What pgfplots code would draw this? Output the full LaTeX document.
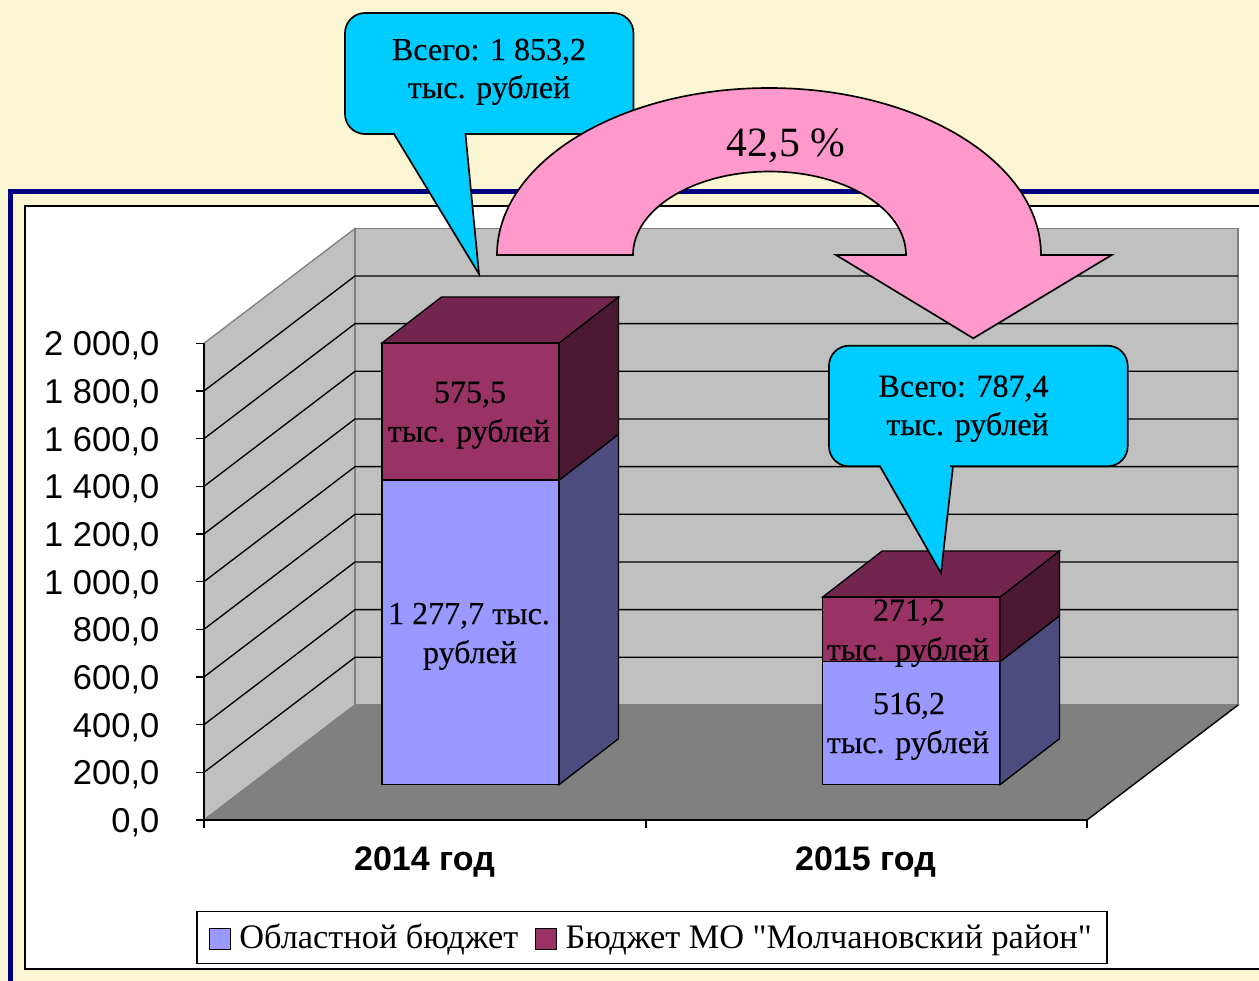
\documentclass[border=0pt]{standalone}
\usepackage{fontspec}
\setmainfont{Liberation Serif}
\newfontfamily\arial{Liberation Sans}
\newfontfamily\serifb[FakeBold=0.3]{Liberation Serif}
\newfontfamily\legf[Ligatures=TeXOff]{Liberation Serif}
\usepackage{pgfplots}
\pgfplotsset{compat=1.18}
\definecolor{pagebg}{HTML}{FAF5D3}
\definecolor{navy}{HTML}{000080}
\definecolor{wall}{HTML}{C0C0C0}
\definecolor{flr}{HTML}{808080}
\definecolor{blueF}{HTML}{9999FF}
\definecolor{blueS}{HTML}{4C4C7F}
\definecolor{marF}{HTML}{993366}
\definecolor{marT}{HTML}{73264D}
\definecolor{marS}{HTML}{4C1933}
\definecolor{cyanb}{HTML}{00CCFF}
\definecolor{pinka}{HTML}{FF99CC}
\newcommand{\tfont}{\serifb\fontsize{19.2}{23}\selectfont}
\begin{document}
\begin{tikzpicture}
\begin{scope}[x=0.6pt,y=-0.6pt]
\useasboundingbox (0,0) rectangle (1259,981);
\fill[pagebg] (0,0) rectangle (1259,981);
\fill[navy] (8,189) rectangle (1270,990);
\fill[pagebg] (13,194) rectangle (1270,990);
\draw[fill=white,line width=1.1pt] (25,205.7) rectangle (1280,968.7);
\end{scope}
\begin{axis}[
  at={(122.4pt,-492pt)},anchor=south west,
  scale only axis,width=529.8pt,height=286.02pt,
  xmin=204,xmax=1087,ymin=0,ymax=2000,
  clip=false,no marks,axis on top,
  axis x line*=bottom,axis y line*=left,
  axis line style={line width=1pt,-},
  tick align=outside,
  major tick length=4.8pt,minor tick length=4.8pt,
  tick style={black,line width=0.8pt},
  ytick={0,200,...,2000},
  yticklabel style={font=\arial\fontsize{20.7}{24}\selectfont,inner sep=0pt,xshift=-21.8pt,yshift=-1.6pt,
    /pgf/number format/.cd,fixed,fixed zerofill,precision=1,use comma,1000 sep={\ },assume math mode=true},
  xtick={424.5,865.5},
  xticklabels={2014 год,2015 год},
  xticklabel style={font=\arial\bfseries\fontsize{20.4}{24}\selectfont,inner sep=0pt,yshift=-11pt},
  minor xtick={204,646,1087},
  every major x tick/.append style={draw=none},
  legend columns=2,
  legend style={at={(axis cs:652,-493)},anchor=center,draw=black,line width=0.8pt,fill=white,
    font=\legf\fontsize{20.6}{24}\selectfont,inner xsep=7pt,inner ysep=5.4pt,
    /tikz/every even column/.append style={column sep=8pt},
    /tikz/every odd column/.append style={column sep=3pt}},
]
% walls and floor
\addplot[fill=wall,draw=flr,line width=0.8pt,forget plot] coordinates {(204,0)(204,2000)(355,2481.6)(355,482.5)} --cycle;
\addplot[fill=wall,draw=flr,line width=0.8pt,forget plot] coordinates {(355,482.5)(355,2481.6)(1238,2481.6)(1238,482.5)} --cycle;
\addplot[fill=flr,draw=flr,line width=0.8pt,forget plot] coordinates {(204,0)(355,482.5)(1238,482.5)(1087,0)} --cycle;
\addplot[black,line width=0.8pt,forget plot] coordinates {(1087,0)(1238,482.5)};
% grid
\addplot[black,line width=0.8pt,forget plot] coordinates {(204,200)(355,682.5)(1238,682.5)};
\addplot[black,line width=0.8pt,forget plot] coordinates {(204,400)(355,882.5)(1238,882.5)};
\addplot[black,line width=0.8pt,forget plot] coordinates {(204,600)(355,1082.5)(1238,1082.5)};
\addplot[black,line width=0.8pt,forget plot] coordinates {(204,800)(355,1282.5)(1238,1282.5)};
\addplot[black,line width=0.8pt,forget plot] coordinates {(204,1000)(355,1482.5)(1238,1482.5)};
\addplot[black,line width=0.8pt,forget plot] coordinates {(204,1200)(355,1682.5)(1238,1682.5)};
\addplot[black,line width=0.8pt,forget plot] coordinates {(204,1400)(355,1882.5)(1238,1882.5)};
\addplot[black,line width=0.8pt,forget plot] coordinates {(204,1600)(355,2082.5)(1238,2082.5)};
\addplot[black,line width=0.8pt,forget plot] coordinates {(204,1800)(355,2282.5)(1238,2282.5)};
% bar sides and tops
\addplot[fill=blueS,draw=black,line width=0.8pt,yshift=21.18pt,forget plot] coordinates {(559,0)(559,1277.7)(618.5,1470.7)(618.5,193)} --cycle;
\addplot[fill=marS,draw=black,line width=0.8pt,yshift=21.18pt,forget plot] coordinates {(559,1277.7)(559,1853.2)(618.5,2046.2)(618.5,1470.7)} --cycle;
\addplot[fill=marT,draw=black,line width=0.8pt,yshift=21.18pt,forget plot] coordinates {(382,1853.2)(559,1853.2)(618.5,2046.2)(441.5,2046.2)} --cycle;
\addplot[fill=blueS,draw=black,line width=0.8pt,yshift=21.18pt,forget plot] coordinates {(1000,0)(1000,516.2)(1059.5,709.2)(1059.5,193)} --cycle;
\addplot[fill=marS,draw=black,line width=0.8pt,yshift=21.18pt,forget plot] coordinates {(1000,516.2)(1000,787.4)(1059.5,980.4)(1059.5,709.2)} --cycle;
\addplot[fill=marT,draw=black,line width=0.8pt,yshift=21.18pt,forget plot] coordinates {(822.7,787.4)(1000,787.4)(1059.5,980.4)(882.2,980.4)} --cycle;
% bar fronts
\addplot[ybar stacked,bar width=177,fill=blueF,draw=black,line width=0.8pt,yshift=21.18pt,
  legend image code/.code={\draw[fill=blueF,draw=black,line width=0.8pt,yshift=-22.2pt] (0pt,-6.3pt) rectangle (12.6pt,6.3pt);}]
  coordinates {(470.5,1277.7)(911.3,516.2)};
\addlegendentry{Областной бюджет}
\addplot[ybar stacked,bar width=177,fill=marF,draw=black,line width=0.8pt,yshift=21.18pt,
  legend image code/.code={\draw[fill=marF,draw=black,line width=0.8pt,yshift=-22.2pt] (0pt,-6.3pt) rectangle (12.6pt,6.3pt);}]
  coordinates {(470.5,575.5)(911.3,271.2)};
\addlegendentry{Бюджет МО "Молчановский район"}
\end{axis}
\begin{scope}[x=0.6pt,y=-0.6pt]
% callouts and arrow
\draw[fill=cyanb,line width=1pt] (450,13) [rounded corners=12pt] -- (633.5,13) -- (633.5,134) -- (500,134) [sharp corners] -- (465.5,134) -- (479,274) -- (394,134) -- (380,134) [rounded corners=12pt] -- (345,134) -- (345,13) -- cycle;
\draw[fill=pinka,line width=1pt] (497,255) .. controls (497,162.8) and (618.8,88) .. (769,88) .. controls (919.2,88) and (1041,162.8) .. (1041,255)
  -- (1111.7,255) -- (973.3,338.3) -- (836,255) -- (906,255)
  .. controls (906,208.9) and (844.9,171.5) .. (769.5,171.5) .. controls (694.1,171.5) and (633,208.9) .. (633,255) -- cycle;
\draw[fill=cyanb,line width=1pt] (950,345.7) [rounded corners=12pt] -- (1127.7,345.7) -- (1127.7,466.3) -- (970,466.3) [sharp corners] -- (953,466.3) -- (941,573) -- (880,466.3) -- (865,466.3) [rounded corners=12pt] -- (829,466.3) -- (829,345.7) -- cycle;
% labels
\tikzset{lbl/.style={anchor=base,inner sep=0pt,font=\tfont}}
\node[lbl] at (489,60) {Всего: 1 853,2};
\node[lbl] at (489,98) {тыс. рублей};
\node[lbl] at (963.5,396.7) {Всего: 787,4};
\node[lbl] at (967.5,435) {тыс. рублей};
\node[anchor=base,inner sep=0pt,font=\fontsize{25}{30}\selectfont] at (786,156) {42,5 \%};
\node[lbl] at (470,402.7) {575,5};
\node[lbl] at (469,441.7) {тыс. рублей};
\node[lbl] at (469,624) {1 277,7 тыс.};
\node[lbl] at (470,663) {рублей};
\node[lbl] at (909,620.7) {271,2};
\node[lbl] at (908,660) {тыс. рублей};
\node[lbl] at (909,714) {516,2};
\node[lbl] at (908,753) {тыс. рублей};
\end{scope}
\end{tikzpicture}
\end{document}
